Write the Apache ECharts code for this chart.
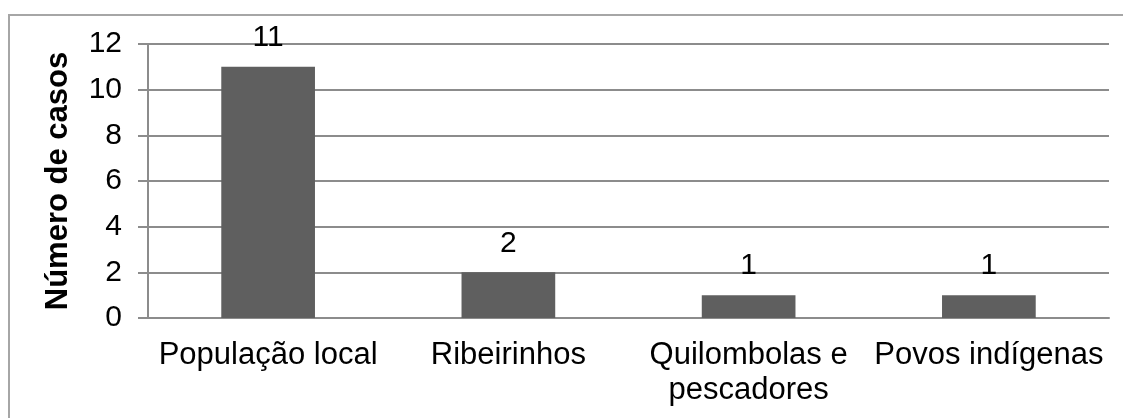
<!DOCTYPE html>
<html>
<head>
<meta charset="utf-8">
<script src="https://cdn.jsdelivr.net/npm/echarts@6/dist/echarts.min.js"></script>
<style>
  html, body { margin: 0; padding: 0; background: #fff; }
  #chart { width: 1123px; height: 418px; }
</style>
</head>
<body>
<div id="chart"></div>
<script>
  // dados do gráfico
  var categorias = ['População local', 'Ribeirinhos', 'Quilombolas e\npescadores', 'Povos indígenas'];
  var casos = [11, 2, 1, 1];
  var ticksY = [0, 2, 4, 6, 8, 10, 12];

  var fonte = '"Liberation Sans", Arial, sans-serif';
  var chart = echarts.init(document.getElementById('chart'));

  chart.setOption({
    animation: false,
    backgroundColor: '#fff',
    graphic: [{
      type: 'rect',
      shape: { x: 9, y: 15, width: 1300, height: 600 },
      style: { fill: 'none', stroke: '#a6a6a6', lineWidth: 2 },
      silent: true
    }],
    grid: { left: 148, right: 14, top: 44, bottom: 100 },
    xAxis: {
      type: 'category',
      data: categorias,
      axisLine: { lineStyle: { color: '#8c8c8c', width: 2 } },
      axisTick: { show: false },
      axisLabel: {
        margin: 20,
        interval: 0,
        color: '#000',
        fontFamily: fonte,
        fontSize: 31,
        lineHeight: 35
      }
    },
    yAxis: {
      type: 'value',
      min: ticksY[0],
      max: ticksY[ticksY.length - 1],
      interval: 2,
      name: 'Número de casos',
      nameLocation: 'middle',
      nameGap: 74,
      nameTextStyle: { color: '#000', fontFamily: fonte, fontWeight: 'bold', fontSize: 31 },
      axisLine: { show: true, lineStyle: { color: '#8c8c8c', width: 2 } },
      axisTick: { show: true, length: 10, lineStyle: { color: '#8c8c8c', width: 2 } },
      splitLine: { lineStyle: { color: '#8c8c8c', width: 2 } },
      axisLabel: {
        margin: 26,
        color: '#000',
        fontFamily: fonte,
        fontSize: 30
      }
    },
    series: [{
      type: 'bar',
      data: casos,
      barWidth: '39%',
      itemStyle: { color: '#5f5f5f' },
      label: {
        show: true,
        position: 'top',
        distance: 14,
        color: '#000',
        fontFamily: fonte,
        fontSize: 30
      }
    }]
  });
</script>
</body>
</html>
